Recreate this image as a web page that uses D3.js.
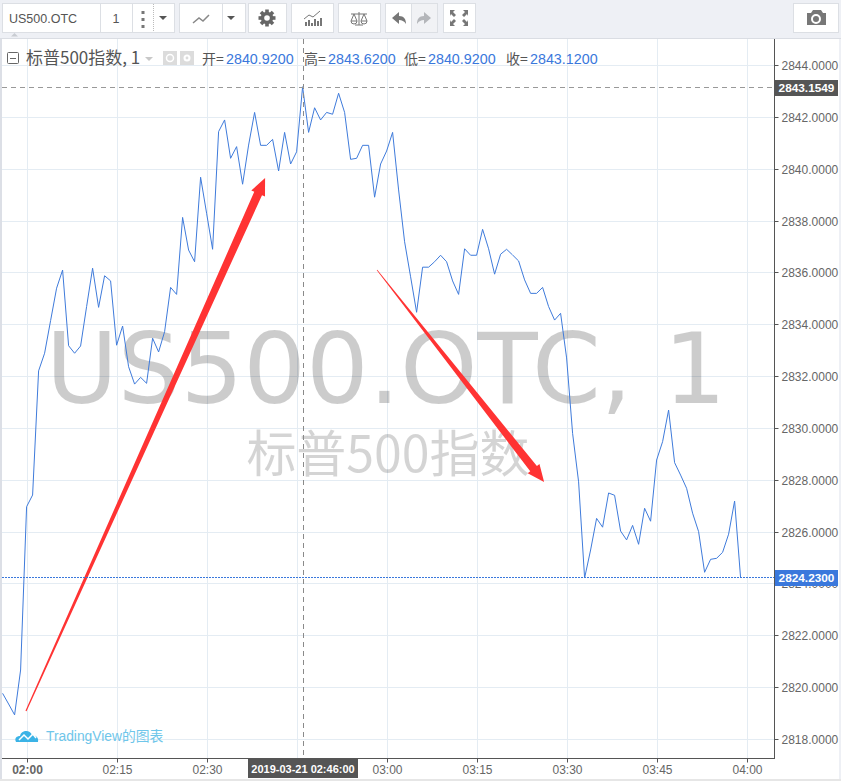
<!DOCTYPE html>
<html><head><meta charset="utf-8">
<script src="https://cdn.jsdelivr.net/npm/d3@7"></script>
<style>
html,body{margin:0;padding:0;background:#eef0f5;overflow:hidden}
svg{display:block}
text{font-family:"Liberation Sans",Arial,sans-serif}
</style></head><body>
<svg id="c" width="841" height="781"></svg>
<script>
const symbol = "US500.OTC";
const interval = "1";
const seriesName = "标普500指数";
const sessionStart = new Date(2019, 2, 21, 2, 0);
const firstMinute = -4;
const closes = [
2819.78,2819.37,2818.95,2820.68,2826.98,2827.43,2832.22,2832.90,2834.16,2835.41,
2836.11,2833.19,2832.90,2833.18,2834.70,2836.18,2834.67,2835.89,2835.69,2833.21,
2833.95,2832.38,2831.71,2831.97,2831.74,2833.48,2832.95,2833.73,2835.44,2835.17,
2838.14,2836.88,2836.43,2839.69,2838.30,2836.91,2841.45,2841.90,2840.42,2840.87,
2839.42,2840.93,2842.19,2840.92,2840.92,2841.15,2839.93,2841.42,2840.20,2840.67,
2843.18,2841.42,2842.37,2841.90,2842.19,2842.12,2842.93,2842.19,2840.38,2840.42,
2840.92,2840.92,2838.92,2840.20,2840.70,2841.42,2839.20,2837.20,2835.85,2834.48,
2836.22,2836.22,2836.43,2836.68,2836.43,2835.69,2835.17,2836.93,2836.68,2836.68,
2837.68,2836.93,2835.95,2836.72,2836.91,2836.69,2836.46,2835.73,2835.21,2835.21,
2835.44,2834.70,2834.18,2834.44,2832.72,2829.81,2827.94,2824.23,2825.31,2826.53,
2826.19,2827.51,2827.42,2826.04,2825.70,2826.26,2825.53,2826.92,2826.42,2828.78,
2829.49,2830.71,2828.68,2828.20,2827.69,2826.73,2826.02,2824.45,2824.95,2824.99,
2825.22,2825.92,2827.20,2824.23];
const priceTicks = [2818,2820,2822,2824,2826,2828,2830,2832,2834,2836,2838,2840,2842,2844];
const gridMinutes = [0,15,30,45,60,75,90,105,120];
const timeTickMinutes = [0,15,30,60,75,90,105,120];
const ohlcLabels = ["开=","高=","低=","收="];
const ohlcValues = ["2840.9200","2843.6200","2840.9200","2843.1200"];
const crosshairMinute = 46;
const crosshairPrice = 2843.1549;
const lastPrice = 2824.23;
const arrowUp = {from:[-0.25,2819.1], to:[39.6,2839.66]};
const arrowDown = {from:[58.25,2836.11], to:[86.1,2827.93]};

const at = m => new Date(+sessionStart + m*60000);
const x = d3.scaleTime().domain([at(0), at(120)]).range([27.5, 747.5]);
const y = d3.scaleLinear().domain([2818, 2844]).range([739.5, 65.5]);
const crisp = v => Math.floor(v) + 0.5;
const svg = d3.select("#c");
const L = 2, R = 774.5, T = 38.5, B = 758.5;

// page + panel
svg.append("rect").attr("width",841).attr("height",781).attr("fill","#eef0f5");
svg.append("rect").attr("x",L).attr("y",39).attr("width",837).attr("height",740).attr("fill","#fff");
svg.append("rect").attr("x",0).attr("y",38).attr("width",2).attr("height",743).attr("fill","#dcdfe6");
svg.append("rect").attr("x",0).attr("y",779).attr("width",841).attr("height",2).attr("fill","#e6e6e6");
svg.append("line").attr("x1",0).attr("x2",841).attr("y1",38.5).attr("y2",38.5).attr("stroke","#dadde3");
svg.append("path").attr("d","M11 36.5 L14.5 33 L18 36.5Z").attr("fill","#c9ccd2");

// grid
const grid = svg.append("g").attr("stroke","#e4ecf3").attr("stroke-width",1);
grid.selectAll(".v").data(gridMinutes).join("line")
  .attr("x1",d=>crisp(x(at(d)))).attr("x2",d=>crisp(x(at(d)))).attr("y1",39).attr("y2",B);
grid.selectAll(".h").data(priceTicks).join("line")
  .attr("x1",L).attr("x2",R).attr("y1",d=>crisp(y(d))).attr("y2",d=>crisp(y(d)));

// watermark
svg.append("text").text(symbol+", "+interval).attr("x",386).attr("y",403)
  .attr("text-anchor","middle").attr("fill","#000").attr("fill-opacity",0.2)
  .style("font-family","'DejaVu Sans'").style("font-size","98.6px");
svg.append("text").text(seriesName).attr("x",388).attr("y",472)
  .attr("text-anchor","middle").attr("fill","#000").attr("fill-opacity",0.17)
  .style("font-family","'Noto Sans CJK SC'").style("font-size","50px");

// price line
const line = d3.line().x((d,i)=>x(at(firstMinute+i))-0.9).y(d=>y(d));
svg.append("path").datum(closes).attr("d",line).attr("fill","none")
  .attr("stroke","#3f7bdb").attr("stroke-width",1);

// arrows
function arrow(a, tail, shaft, headW, headL){
  const p0=[x(at(a.from[0])),y(a.from[1])], p1=[x(at(a.to[0])),y(a.to[1])];
  const dx=p1[0]-p0[0], dy=p1[1]-p0[1], len=Math.hypot(dx,dy), ux=dx/len, uy=dy/len, nx=-uy, ny=ux;
  const b=[p1[0]-ux*headL,p1[1]-uy*headL];
  const pts=[
    [p0[0]+nx*tail/2,p0[1]+ny*tail/2],
    [b[0]+nx*shaft/2,b[1]+ny*shaft/2],
    [b[0]+nx*headW/2,b[1]+ny*headW/2],
    p1,
    [b[0]-nx*headW/2,b[1]-ny*headW/2],
    [b[0]-nx*shaft/2,b[1]-ny*shaft/2],
    [p0[0]-nx*tail/2,p0[1]-ny*tail/2]];
  svg.append("path").attr("d",d3.line()(pts)+"Z").attr("fill","#ff3333");
}
arrow(arrowUp,1.2,8.5,15,17);
arrow(arrowDown,0.6,8.5,15,17);

// crosshair
svg.append("line").attr("x1",crisp(x(at(crosshairMinute)))).attr("x2",crisp(x(at(crosshairMinute))))
  .attr("y1",39).attr("y2",B).attr("stroke","#8a8a8a").attr("stroke-dasharray","5 4");
svg.append("line").attr("x1",L).attr("x2",R).attr("y1",crisp(y(crosshairPrice))).attr("y2",crisp(y(crosshairPrice)))
  .attr("stroke","#999").attr("stroke-dasharray","5 4");
svg.append("line").attr("x1",L).attr("x2",R).attr("y1",crisp(y(lastPrice)-0.6)).attr("y2",crisp(y(lastPrice)-0.6))
  .attr("stroke","#3a78dc").attr("stroke-dasharray","2 1");

// axes
const ay = svg.append("g").attr("transform",`translate(${R},0)`)
  .call(d3.axisRight(y).tickValues(priceTicks).tickSize(4).tickPadding(3).tickFormat(d3.format(".4f")));
ay.selectAll(".tick").attr("transform",d=>`translate(0,${crisp(y(d))})`);
ay.selectAll("text").attr("dy","0.36em");
const ax = svg.append("g").attr("transform",`translate(0,${B})`)
  .call(d3.axisBottom(x).tickValues(timeTickMinutes.map(at)).tickSize(4).tickPadding(3).tickFormat(d3.timeFormat("%H:%M")));
ax.selectAll(".tick").attr("transform",d=>`translate(${crisp(x(d))},0)`);
[ay,ax].forEach(g=>{
  g.selectAll("path.domain").remove();
  g.selectAll("line").attr("stroke","#555");
  g.selectAll("text").attr("fill","#666").style("font-size","12px").style("font-family","'Liberation Sans'");
});
ax.selectAll("text").filter(d=>+d===+at(0)).style("font-weight","bold");
svg.append("line").attr("x1",L).attr("x2",R+0.5).attr("y1",B).attr("y2",B).attr("stroke","#555");
svg.append("line").attr("x1",R).attr("x2",R).attr("y1",39).attr("y2",B).attr("stroke","#555");

// axis flags
function flag(px,py,w,h,fill,txt,size){
  svg.append("rect").attr("x",px).attr("y",py).attr("width",w).attr("height",h).attr("fill",fill);
  svg.append("text").text(txt).attr("x",px+w/2).attr("y",py+h/2+4.2).attr("text-anchor","middle")
    .attr("fill","#fff").style("font-size",size).style("font-weight","bold");
}
flag(775,80,63,16,"#555",d3.format(".4f")(crosshairPrice),"11.8px");
flag(775,570,63,16,"#3a78dc",d3.format(".4f")(lastPrice),"11.8px");
flag(248,759,110,19,"#555",d3.timeFormat("%Y-%m-%d %H:%M:%S")(at(crosshairMinute)),"11px");

// legend row
const cjk="'Noto Sans CJK SC','Liberation Sans'";
const hy=64;
svg.append("rect").attr("x",7.5).attr("y",52.5).attr("width",11).attr("height",11).attr("rx",1).attr("fill","#fff").attr("stroke","#666");
svg.append("line").attr("x1",10).attr("x2",16).attr("y1",58.5).attr("y2",58.5).attr("stroke","#666");
svg.append("text").text(seriesName+", "+interval).attr("x",26).attr("y",hy).attr("fill","#555")
  .style("font-family",cjk).style("font-size","17px");
svg.append("path").attr("d","M145 57 L153 57 L149 61Z").attr("fill","#c8c8c8");
[163,180].forEach(px=>svg.append("rect").attr("x",px).attr("y",51).attr("width",14).attr("height",14).attr("fill","#dcdcdc"));
svg.append("circle").attr("cx",170).attr("cy",58).attr("r",3.5).attr("fill","none").attr("stroke","#fff").attr("stroke-width",1.5);
svg.append("circle").attr("cx",187).attr("cy",58).attr("r",3.5).attr("fill","#fff");
svg.append("circle").attr("cx",187).attr("cy",58).attr("r",1.4).attr("fill","#dcdcdc");
const labX=[202,304,404,506], valX=[226,328,428,530];
ohlcLabels.forEach((t,i)=>{
  svg.append("text").text(t).attr("x",labX[i]).attr("y",hy).attr("fill","#555").style("font-family",cjk).style("font-size","14px");
  svg.append("text").text(ohlcValues[i]).attr("x",valX[i]).attr("y",hy).attr("fill","#3a78dc").style("font-size","14.3px");
});

// branding
svg.append("path").attr("d","M16 742 C14 738 17 736 20 736 C21 730 30 729 32 735 C36 735 39 738 38 742 Z").attr("fill","#3bb3e6");
svg.append("path").attr("d","M19 740 L24 735 L28 739 L33 734 L36 738").attr("fill","none").attr("stroke","#fff").attr("stroke-width",1.5);
svg.append("text").text("TradingView的图表").attr("x",46).attr("y",740.5).attr("fill","#6fc6ea")
  .style("font-family","'Liberation Sans','Noto Sans CJK SC'").style("font-size","13.8px");

// toolbar
const tb = svg.append("g");
const box=(x0,x1,f)=>tb.append("rect").attr("x",x0+.5).attr("y",3.5).attr("width",x1-x0).attr("height",29).attr("fill",f||"#fff").attr("stroke","#dcdfe4");
box(2,174); box(179,245); box(248,286); box(291,333); box(338,380); box(385,437); box(443,475); box(793,838);
tb.append("rect").attr("x",411).attr("y",4).attr("width",26).attr("height",28).attr("fill","#f1f2f5");
[100,132,222,411].forEach(v=>tb.append("line").attr("x1",v+.5).attr("x2",v+.5).attr("y1",4).attr("y2",32).attr("stroke","#dcdfe4"));
tb.append("line").attr("x1",153.5).attr("x2",153.5).attr("y1",4).attr("y2",32).attr("stroke","#bbb").attr("stroke-dasharray","1 1");
tb.append("text").text(symbol).attr("x",9).attr("y",23).attr("fill","#555").style("font-size","12.5px");
tb.append("text").text(interval).attr("x",116).attr("y",23).attr("text-anchor","middle").attr("fill","#555").style("font-size","12.5px");
[11,18,25].forEach(v=>tb.append("rect").attr("x",141.5).attr("y",v).attr("width",3).attr("height",3).attr("fill","#777"));
[159,227].forEach(v=>tb.append("path").attr("d",`M${v} 16 L${v+8} 16 L${v+4} 20Z`).attr("fill","#555"));
tb.append("path").attr("d","M193 23 L199 18 L203 21 L209 15").attr("fill","none").attr("stroke","#888").attr("stroke-width",1.5);
// gear
tb.append("g").selectAll("rect").data([0,45,90,135]).join("rect").attr("x",265.2).attr("y",9.5).attr("width",3.6).attr("height",17)
  .attr("transform",d=>`rotate(${d} 267 18)`).attr("fill","#666");
tb.append("circle").attr("cx",267).attr("cy",18).attr("r",4.5).attr("fill","none").attr("stroke","#666").attr("stroke-width",3.5);
tb.append("circle").attr("cx",267).attr("cy",18).attr("r",2.8).attr("fill","#fff");
// indicators
[305,308,311,314,317,320].forEach((v,i)=>tb.append("rect").attr("x",v).attr("y",[22,20,23,19,21,18][i]).attr("width",2).attr("height",26-[22,20,23,19,21,18][i]).attr("fill","#777"));
tb.append("path").attr("d","M304 19 L309 15 L313 17 L320 11").attr("fill","none").attr("stroke","#777");
// scales
tb.append("path").attr("d","M351 14 L367 14 M359 12 L359 25 M355 25 L363 25 M354 14 L351 21 L357 21 Z M364 14 L361 21 L367 21 Z M351 21 A3 3 0 0 0 357 21 M361 21 A3 3 0 0 0 367 21").attr("fill","none").attr("stroke","#777");
// undo / redo
tb.append("path").attr("d","M392 18 L399 12 L399 16 C404 16 406 19 406 24 C404 21 402 20 399 20 L399 24Z").attr("fill","#777");
tb.append("path").attr("d","M431 18 L424 12 L424 16 C419 16 417 19 417 24 C419 21 421 20 424 20 L424 24Z").attr("fill","#b4b6ba");
// fullscreen
tb.append("path").attr("d","M450 10 L455 10 L453 12 L456 15 L454 17 L451 14 L450 16Z M468 10 L463 10 L465 12 L462 15 L464 17 L467 14 L468 16Z M450 26 L455 26 L453 24 L456 21 L454 19 L451 22 L450 20Z M468 26 L463 26 L465 24 L462 21 L464 19 L467 22 L468 20Z").attr("fill","#777");
// camera
tb.append("path").attr("d","M807 13 L811 13 L813 10 L821 10 L823 13 L826 13 L826 25 L807 25Z").attr("fill","#777");
tb.append("circle").attr("cx",816).attr("cy",19).attr("r",4).attr("fill","none").attr("stroke","#fff").attr("stroke-width",2);
</script>
</body></html>
